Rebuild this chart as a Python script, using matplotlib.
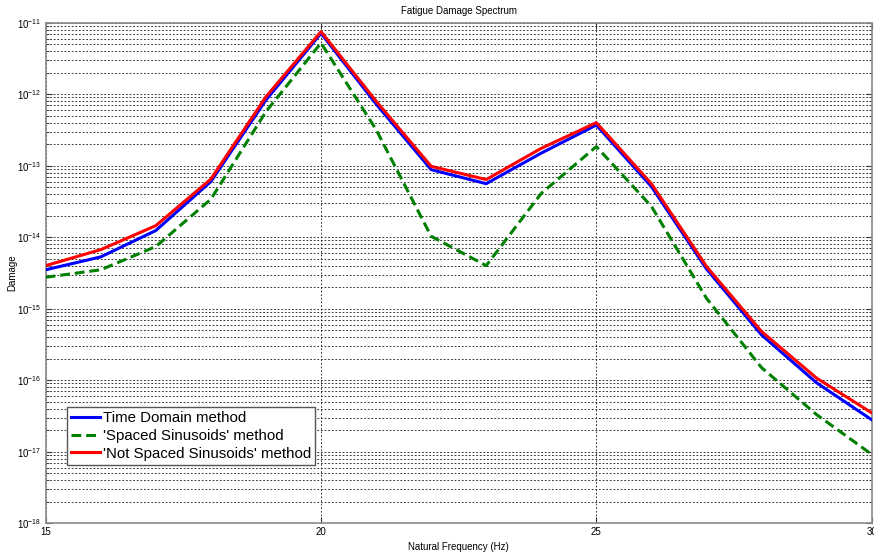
import numpy as np
import matplotlib
matplotlib.use("Agg")
import matplotlib.pyplot as plt
from matplotlib.ticker import LogLocator, FixedLocator, NullFormatter, LogFormatterMathtext

plt.rcParams["font.family"] = ["Liberation Sans", "DejaVu Sans"]
plt.rcParams["mathtext.default"] = "regular"

freq = [15, 16, 17, 18, 19, 20, 21, 22, 23, 24, 25, 26, 27, 28, 29, 30]

time_domain = [3.5e-15, 5.3e-15, 1.24e-14, 6.0e-14, 8.3e-13, 7.1e-12, 7.3e-13, 8.8e-14,
               5.6e-14, 1.5e-13, 3.7e-13, 5.1e-14, 3.6e-15, 4.3e-16, 9.2e-17, 2.8e-17]
spaced_sin = [2.75e-15, 3.5e-15, 7.4e-15, 3.4e-14, 5.7e-13, 5.2e-12, 3.2e-13, 1.03e-14,
              4.0e-15, 4.1e-14, 1.85e-13, 2.7e-14, 1.4e-15, 1.5e-16, 3.3e-17, 9.2e-18]
not_spaced_sin = [4.0e-15, 6.7e-15, 1.45e-14, 6.5e-14, 9.2e-13, 7.5e-12, 8.0e-13, 9.8e-14,
                  6.4e-14, 1.75e-13, 4.0e-13, 5.6e-14, 3.9e-15, 4.8e-16, 1.07e-16, 3.5e-17]

labels = ["Time Domain method", "'Spaced Sinusoids' method", "'Not Spaced Sinusoids' method"]
x_ticks = [15, 20, 25, 30]

fig = plt.figure(figsize=(8.74, 5.52), dpi=100)
ax = fig.add_axes([0.0523, 0.0522, 0.9450, 0.9067])

ax.plot(freq, time_domain, color=(0, 0, 1), lw=2.2, label=labels[0], zorder=3)
ax.plot(freq, spaced_sin, color=(0, 0.5, 0), lw=2.2, ls=(0, (3.2, 1.6)), label=labels[1], zorder=3)
ax.plot(freq, not_spaced_sin, color=(1, 0, 0), lw=2.2, label=labels[2], zorder=4)

ax.set_yscale("log")
ax.set_xlim(15, 30)
ax.set_ylim(1e-18, 1e-11)

ax.xaxis.set_major_locator(FixedLocator(x_ticks))
ax.yaxis.set_major_locator(LogLocator(base=10, numticks=20))
ax.yaxis.set_minor_locator(LogLocator(base=10, subs=np.arange(2, 10), numticks=20))
ax.yaxis.set_minor_formatter(NullFormatter())
ax.yaxis.set_major_formatter(LogFormatterMathtext())

ax.tick_params(axis="both", which="both", direction="in", top=True, right=True,
               labelsize=7, color="#333333", pad=3)
ax.tick_params(axis="both", which="major", length=4)
ax.tick_params(axis="y", which="minor", length=2.5)

grid_kw = dict(color="#2a2a2a", lw=0.65, ls=(0, (2, 2)))
ax.grid(True, which="major", axis="both", **grid_kw)
ax.grid(True, which="minor", axis="y", **grid_kw)
ax.set_axisbelow(True)

for s in ax.spines.values():
    s.set_color("#8a8a8a")
    s.set_linewidth(1.2)

ax.set_title("Fatigue Damage Spectrum", fontsize=7, pad=6)
ax.set_xlabel("Natural Frequency (Hz)", fontsize=7, labelpad=3)
ax.set_ylabel("Damage", fontsize=7)
ax.yaxis.set_label_coords(-0.0345, 0.5)

leg = ax.legend(loc="lower left", bbox_to_anchor=(0.0254, 0.116), fontsize=10.8,
                frameon=True, fancybox=False, handlelength=1.9, handletextpad=0.2,
                labelspacing=0.25, borderpad=0.3, borderaxespad=0)
leg.get_frame().set_edgecolor("#555555")
leg.get_frame().set_linewidth(1.0)
leg.get_frame().set_alpha(1)

fig.savefig("out.png", dpi=100)
